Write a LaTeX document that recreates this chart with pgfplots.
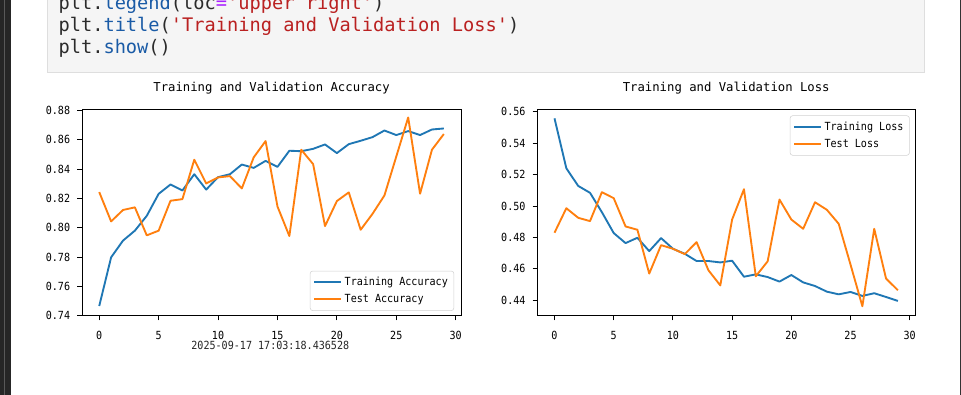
\documentclass[border=0pt]{standalone}
\usepackage{fontspec}
\setmonofont{DejaVu Sans Mono}
\newfontfamily\chartfont{DejaVu Sans Mono}[FakeStretch=0.9]
\usepackage{pgfplots}
\pgfplotsset{compat=1.18}
\definecolor{cA}{HTML}{1F77B4}
\definecolor{cB}{HTML}{FF7F0E}
\definecolor{codedark}{HTML}{2B2B2B}
\definecolor{codeblue}{HTML}{1A5BA6}
\definecolor{codered}{HTML}{BA2121}
\definecolor{codepurple}{HTML}{AA22FF}
\newcommand{\tickfont}{\chartfont\fontsize{8.4}{10}\selectfont}
\newcommand{\titlefont}{\ttfamily\fontsize{9.2}{11}\selectfont}
\pgfplotsset{
  mystyle/.style={
    scale only axis,
    height=154.5pt,
    xmin=-1.45, xmax=30.45,
    xtick={0,5,10,15,20,25,30},
    xticklabels={0,5,10,15,20,25,30},
    axis line style={line width=0.7pt, black},
    tick style={line width=0.7pt, black},
    tick align=outside,
    major tick length=3.5pt,
    xtick pos=lower, ytick pos=left,
    ticklabel style={font=\tickfont, inner sep=0pt},
    xticklabel style={anchor=base, yshift=-14.4pt},
    yticklabel style={anchor=east, xshift=-5.2pt},
    title style={font=\titlefont, anchor=base, at={(0.5,1)}, yshift=7.4pt, inner sep=0pt},
    legend style={draw=black!18, rounded corners=2pt, fill=white, fill opacity=0.8,
      text opacity=1, font=\tickfont, inner xsep=2.5pt, inner ysep=2.6pt,
      row sep=1.0pt, cells={anchor=west}},
    legend image code/.code={\draw[#1,line width=1.4pt] (0pt,0pt) -- (20pt,0pt);},
    every axis plot/.append style={line width=1.4pt, line join=round},
  }
}
\pgfplotstableread{
x ta va tl vl
0 0.7466 0.8243 0.5558 0.4830
1 0.7798 0.8043 0.5240 0.4986
2 0.7912 0.8121 0.5128 0.4925
3 0.7980 0.8139 0.5084 0.4904
4 0.8081 0.7948 0.4961 0.5088
5 0.8231 0.7980 0.4828 0.5050
6 0.8295 0.8184 0.4764 0.4870
7 0.8254 0.8195 0.4798 0.4849
8 0.8365 0.8464 0.4713 0.4570
9 0.8260 0.8302 0.4796 0.4751
10 0.8345 0.8343 0.4728 0.4728
11 0.8365 0.8352 0.4696 0.4694
12 0.8431 0.8268 0.4650 0.4770
13 0.8408 0.8480 0.4650 0.4591
14 0.8456 0.8591 0.4641 0.4495
15 0.8415 0.8145 0.4652 0.4914
16 0.8525 0.7943 0.4550 0.5107
17 0.8522 0.8532 0.4565 0.4553
18 0.8538 0.8434 0.4548 0.4648
19 0.8568 0.8011 0.4519 0.5041
20 0.8509 0.8182 0.4561 0.4914
21 0.8570 0.8241 0.4514 0.4855
22 0.8593 0.7986 0.4491 0.5024
23 0.8618 0.8095 0.4455 0.4976
24 0.8663 0.8220 0.4438 0.4887
25 0.8632 0.8486 0.4453 0.4627
26 0.8659 0.8752 0.4428 0.4362
27 0.8632 0.8232 0.4445 0.4855
28 0.8670 0.8532 0.4421 0.4538
29 0.8677 0.8639 0.4396 0.4464
}\data
\begin{document}
\begin{tikzpicture}
\useasboundingbox (0pt,0pt) rectangle (720.75pt,-296.25pt);
\clip (0pt,0pt) rectangle (720.75pt,-296.25pt);
\begin{scope}[x=0.75pt,y=-0.75pt]
  \fill[white] (0,0) rectangle (961,395);
  \fill[black!85] (0,0) rectangle (11,395);
  \fill[black!65] (4,0) rectangle (5.3,395);
  \fill[black!80] (959.8,0) rectangle (961,395);
  \filldraw[fill=black!4, draw=black!13, line width=0.75pt] (47,-3) rectangle (924,73);
  \begin{scope}[every node/.style={anchor=base west, inner sep=0pt, font=\ttfamily\fontsize{14}{16}\selectfont}]
  \node at (58.3,10) {\textcolor{codedark}{plt.}\textcolor{codeblue}{legend}\textcolor{codedark}{(loc}\textcolor{codepurple}{=}\textcolor{codered}{'upper right'}\textcolor{codedark}{)}};
  \node at (58.3,31.7) {\textcolor{codedark}{plt.}\textcolor{codeblue}{title}\textcolor{codedark}{(}\textcolor{codered}{'Training and Validation Loss'}\textcolor{codedark}{)}};
  \node at (58.3,53.3) {\textcolor{codedark}{plt.}\textcolor{codeblue}{show}\textcolor{codedark}{()}};
  \end{scope}
  \node[anchor=base, inner sep=0pt, font=\tickfont, text=black!85] at (270.3,350) {2025-09-17 17:03:18.436528};
\end{scope}

\begin{axis}[mystyle,
  at={(61.5pt,-236.775pt)}, anchor=south west,
  width=284.3pt,
  ymin=0.7400, ymax=0.8805,
  ytick={0.74,0.76,0.78,0.80,0.82,0.84,0.86,0.88},
  yticklabels={0.74,0.76,0.78,0.80,0.82,0.84,0.86,0.88},
  title={Training and Validation Accuracy},
  legend style={at={(1,0)}, anchor=south east, xshift=-5.2pt, yshift=3.6pt},
]
\addplot[cA] table[x=x,y=ta]{\data};
\addlegendentry{Training Accuracy}
\addplot[cB] table[x=x,y=va]{\data};
\addlegendentry{Test Accuracy}
\end{axis}

\begin{axis}[mystyle,
  at={(403pt,-236.775pt)}, anchor=south west,
  width=283.3pt,
  ymin=0.4302, ymax=0.5613,
  ytick={0.44,0.46,0.48,0.50,0.52,0.54,0.56},
  yticklabels={0.44,0.46,0.48,0.50,0.52,0.54,0.56},
  title={Training and Validation Loss},
  legend style={at={(1,1)}, anchor=north east, xshift=-4pt, yshift=-4.3pt},
]
\addplot[cA] table[x=x,y=tl]{\data};
\addlegendentry{Training Loss}
\addplot[cB] table[x=x,y=vl]{\data};
\addlegendentry{Test Loss}
\end{axis}
\end{tikzpicture}
\end{document}
